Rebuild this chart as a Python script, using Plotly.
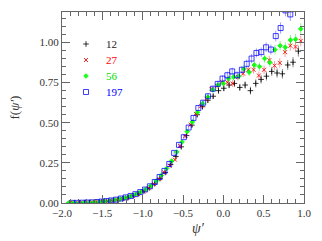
import plotly.graph_objects as go

# ---------------- data ----------------
labels = ["12", "27", "56", "197"]

x_12 = [-1.908, -1.842, -1.776, -1.71, -1.644, -1.578, -1.512, -1.446, -1.38, -1.314,
        -1.248, -1.182, -1.116, -1.05, -0.984, -0.918, -0.852, -0.786, -0.72, -0.654,
        -0.588, -0.522, -0.456, -0.39, -0.324, -0.258, -0.192, -0.126, -0.06, 0.006,
        0.072, 0.138, 0.204, 0.27, 0.336, 0.402, 0.468, 0.534, 0.60, 0.666,
        0.732, 0.798, 0.864, 0.93]
y_12 = [0.000, 0.000, 0.001, 0.002, 0.003, 0.005, 0.007, 0.010, 0.014, 0.019,
        0.026, 0.034, 0.045, 0.058, 0.074, 0.094, 0.120, 0.152, 0.190, 0.240,
        0.290, 0.350, 0.420, 0.485, 0.550, 0.600, 0.640, 0.665, 0.700, 0.715,
        0.735, 0.745, 0.720, 0.735, 0.700, 0.745, 0.770, 0.790, 0.820, 0.810,
        0.805, 0.860, 0.877, 0.946]
e_12 = [0.002, 0.002, 0.002, 0.002, 0.002, 0.003, 0.003, 0.003, 0.004, 0.004,
        0.005, 0.005, 0.006, 0.006, 0.007, 0.008, 0.008, 0.009, 0.010, 0.010,
        0.011, 0.012, 0.012, 0.013, 0.014, 0.015, 0.016, 0.017, 0.018, 0.019,
        0.020, 0.021, 0.022, 0.023, 0.024, 0.025, 0.026, 0.027, 0.028, 0.029,
        0.030, 0.031, 0.032, 0.034]

x_27 = [-1.90, -1.835, -1.77, -1.705, -1.64, -1.575, -1.51, -1.445, -1.38, -1.315,
        -1.25, -1.185, -1.12, -1.055, -0.99, -0.925, -0.86, -0.795, -0.73, -0.665,
        -0.60, -0.535, -0.47, -0.405, -0.34, -0.275, -0.21, -0.145, -0.08, -0.015,
        0.05, 0.115, 0.18, 0.245, 0.31, 0.375, 0.44, 0.505, 0.57, 0.635,
        0.70, 0.765, 0.83, 0.895, 0.96]
y_27 = [0.000, 0.001, 0.002, 0.003, 0.004, 0.006, 0.008, 0.011, 0.015, 0.020,
        0.027, 0.034, 0.043, 0.055, 0.072, 0.092, 0.118, 0.150, 0.190, 0.232,
        0.270, 0.355, 0.418, 0.488, 0.555, 0.605, 0.650, 0.710, 0.730, 0.752,
        0.752, 0.744, 0.785, 0.806, 0.830, 0.830, 0.794, 0.830, 0.890, 0.856,
        0.873, 0.940, 0.980, 0.973, 1.010]
e_27 = [0.002, 0.002, 0.002, 0.002, 0.002, 0.003, 0.003, 0.003, 0.004, 0.004,
        0.005, 0.005, 0.006, 0.006, 0.007, 0.008, 0.008, 0.009, 0.010, 0.010,
        0.011, 0.012, 0.012, 0.013, 0.014, 0.015, 0.016, 0.017, 0.018, 0.019,
        0.020, 0.021, 0.022, 0.022, 0.023, 0.024, 0.025, 0.026, 0.027, 0.028,
        0.029, 0.030, 0.031, 0.032, 0.033]

x_56 = [-1.92, -1.856, -1.792, -1.728, -1.664, -1.60, -1.536, -1.472, -1.408, -1.344,
        -1.28, -1.216, -1.152, -1.088, -1.024, -0.96, -0.896, -0.832, -0.768, -0.704,
        -0.64, -0.576, -0.512, -0.448, -0.384, -0.32, -0.256, -0.192, -0.128, -0.064,
        0.0, 0.064, 0.128, 0.192, 0.256, 0.32, 0.384, 0.448, 0.512, 0.576,
        0.64, 0.704, 0.768, 0.832, 0.896, 0.96]
y_56 = [0.000, 0.001, 0.001, 0.002, 0.003, 0.005, 0.007, 0.010, 0.014, 0.019,
        0.025, 0.033, 0.042, 0.054, 0.068, 0.086, 0.108, 0.138, 0.172, 0.215,
        0.262, 0.318, 0.380, 0.445, 0.505, 0.565, 0.620, 0.660, 0.705, 0.735,
        0.745, 0.775, 0.785, 0.790, 0.835, 0.815, 0.860, 0.850, 0.900, 0.875,
        0.955, 0.980, 0.970, 1.015, 1.020, 1.085]
e_56 = [0.002, 0.002, 0.002, 0.002, 0.002, 0.003, 0.003, 0.003, 0.004, 0.004,
        0.005, 0.005, 0.006, 0.006, 0.007, 0.008, 0.008, 0.009, 0.010, 0.010,
        0.011, 0.012, 0.012, 0.013, 0.014, 0.015, 0.016, 0.017, 0.018, 0.019,
        0.020, 0.021, 0.022, 0.022, 0.023, 0.024, 0.025, 0.026, 0.027, 0.028,
        0.029, 0.030, 0.031, 0.032, 0.033, 0.034]

x_197 = [-1.87, -1.81, -1.75, -1.69, -1.63, -1.57, -1.51, -1.45, -1.39, -1.33,
         -1.27, -1.21, -1.15, -1.09, -1.03, -0.97, -0.91, -0.85, -0.79, -0.73,
         -0.67, -0.61, -0.55, -0.49, -0.43, -0.37, -0.31, -0.25, -0.19, -0.13,
         -0.07, -0.01, 0.05, 0.11, 0.17, 0.23, 0.29, 0.35, 0.41, 0.47,
         0.53, 0.59, 0.65, 0.71, 0.77, 0.83]
y_197 = [0.001, 0.001, 0.002, 0.003, 0.004, 0.006, 0.009, 0.012, 0.016, 0.021,
         0.028, 0.035, 0.044, 0.055, 0.068, 0.084, 0.104, 0.131, 0.162, 0.200,
         0.243, 0.312, 0.362, 0.410, 0.470, 0.530, 0.592, 0.625, 0.665, 0.712,
         0.742, 0.775, 0.796, 0.820, 0.796, 0.830, 0.867, 0.900, 0.935, 0.940,
         0.970, 0.956, 1.040, 1.090, 1.200, 1.175]
e_197 = [0.002, 0.002, 0.002, 0.002, 0.002, 0.003, 0.003, 0.003, 0.004, 0.004,
         0.005, 0.005, 0.006, 0.006, 0.007, 0.008, 0.008, 0.009, 0.010, 0.010,
         0.011, 0.012, 0.012, 0.013, 0.014, 0.015, 0.016, 0.017, 0.018, 0.019,
         0.020, 0.021, 0.022, 0.023, 0.024, 0.025, 0.026, 0.027, 0.028, 0.029,
         0.030, 0.031, 0.033, 0.035, 0.037, 0.040]

x_ticks = [-2.0, -1.5, -1.0, -0.5, 0.0, 0.5, 1.0]
x_ticktext = ["−2.0", "−1.5", "−1.0", "−0.5", "0.0", "0.5", "1.0"]
y_ticks = [0.0, 0.25, 0.5, 0.75, 1.0]
y_ticktext = ["0.00", "0.25", "0.50", "0.75", "1.00"]

# ---------------- figure ----------------
FONT = "Liberation Serif"
series = [
    (x_12, y_12, e_12, labels[0], "#000000", "rgba(0,0,0,0.45)", "cross-thin-open", 4, "legend", 0.8),
    (x_27, y_27, e_27, labels[1], "#ff0000", "rgba(255,0,0,0.4)", "x-thin-open", 4, "legend2", 0.85),
    (x_56, y_56, e_56, labels[2], "#00ff00", "rgba(0,230,0,0.45)", "diamond", 3.5, "legend3", 0.9),
    (x_197, y_197, e_197, labels[3], "#0000ff", "rgba(0,0,255,0.4)", "square-open", 5, "legend4", 0.75),
]

fig = go.Figure()
for xs, ys, es, name, col, ecol, sym, sz, lg, op in series:
    fig.add_trace(go.Scatter(
        x=xs, y=ys, mode="markers", name=name,
        legend=lg, showlegend=True,
        marker=dict(symbol=sym, size=sz, color=col, opacity=op, line=dict(color=col, width=1)),
        error_y=dict(type="data", array=es, visible=True, color=ecol, thickness=1, width=0),
    ))

W, H = 322, 241
ml, mr, mt, mb = 62, 18, 12, 38
pw, ph = W - ml - mr, H - mt - mb

def legend_at(px_x, px_y, color):
    return dict(
        x=(px_x - ml) / pw, y=1 - (px_y - mt) / ph,
        xanchor="left", yanchor="middle",
        bgcolor="rgba(0,0,0,0)", borderwidth=0,
        font=dict(family=FONT, size=11, color=color),
        itemwidth=30, tracegroupgap=0, visible=True,
    )

fig.update_layout(
    width=W, height=H,
    showlegend=True,
    margin=dict(l=ml, r=mr, t=mt, b=mb),
    paper_bgcolor="white", plot_bgcolor="white",
    font=dict(family=FONT, size=11, color="#333"),
    legend=legend_at(66, 44, "#222222"),
    legend2=legend_at(66, 60, "#ff0000"),
    legend3=legend_at(66, 76, "#00dd00"),
    legend4=legend_at(66, 92, "#0000ff"),
    xaxis=dict(
        range=[-2.0, 1.0], tickvals=x_ticks, ticktext=x_ticktext,
        ticks="inside", ticklen=8, tickcolor="#666", tickwidth=1,
        showline=True, linecolor="#666", linewidth=1, mirror="ticks",
        showgrid=False, zeroline=False,
        minor=dict(dtick=0.1, tick0=0, ticks="inside", ticklen=4, tickcolor="#666", showgrid=False),
        tickfont=dict(family=FONT, size=11, color="#333"),
    ),
    yaxis=dict(
        range=[0.0, 1.19], tickvals=y_ticks, ticktext=y_ticktext,
        ticks="inside", ticklen=8, tickcolor="#666", tickwidth=1,
        showline=True, linecolor="#666", linewidth=1, mirror="ticks",
        showgrid=False, zeroline=False,
        minor=dict(dtick=0.05, tick0=0, ticks="inside", ticklen=4, tickcolor="#666", showgrid=False),
        tickfont=dict(family=FONT, size=11, color="#333"),
    ),
    annotations=[
        dict(text="<i>ψ′</i>", x=(198 - ml) / pw, y=-(228 - mt - ph) / ph,
             xref="paper", yref="paper", showarrow=False,
             font=dict(family=FONT, size=14, color="#333"), xanchor="center", yanchor="middle"),
        dict(text="f(<i>ψ′</i>)", x=-(ml - 14) / pw, y=0.5,
             xref="paper", yref="paper", showarrow=False, textangle=-90,
             font=dict(family=FONT, size=13, color="#333"), xanchor="center", yanchor="middle"),
    ],
)

fig.write_html("out.html", config={"displayModeBar": False},
               post_script="document.body.style.margin='0';document.body.style.padding='0';")
